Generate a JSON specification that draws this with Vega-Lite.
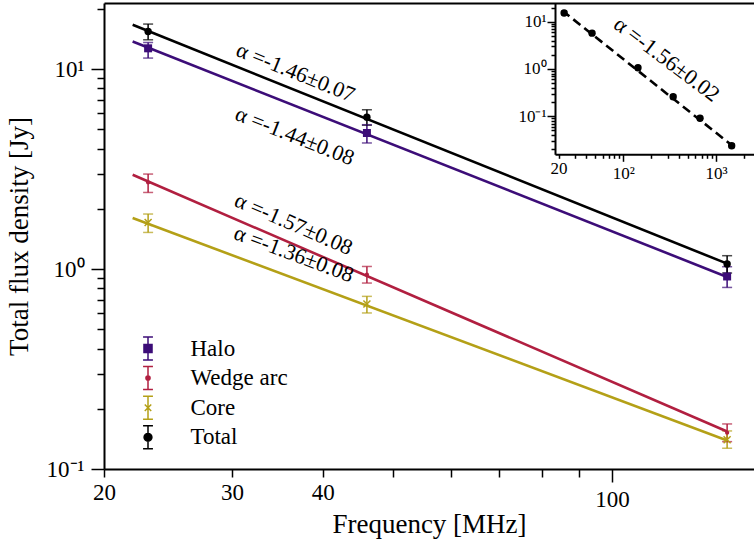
{
  "$schema": "https://vega.github.io/schema/vega-lite/v6.json",
  "autosize": {"type": "none"},
  "padding": {"left": 104, "top": 3, "right": 0, "bottom": 76},
  "width": 650,
  "height": 466,
  "background": "white",
  "datasets": {
    "points": [
      {"series": "Halo", "freq": 23, "flux": 12.7, "lo": 11.35, "hi": 13.58},
      {"series": "Halo", "freq": 46, "flux": 4.79, "lo": 4.27, "hi": 5.27},
      {"series": "Halo", "freq": 144, "flux": 0.918, "lo": 0.809, "hi": 1.027},
      {"series": "Wedge arc", "freq": 23, "flux": 2.71, "lo": 2.415, "hi": 2.985},
      {"series": "Wedge arc", "freq": 46, "flux": 0.937, "lo": 0.851, "hi": 1.03},
      {"series": "Wedge arc", "freq": 144, "flux": 0.152, "lo": 0.137, "hi": 0.168},
      {"series": "Core", "freq": 23, "flux": 1.71, "lo": 1.524, "hi": 1.884},
      {"series": "Core", "freq": 46, "flux": 0.668, "lo": 0.603, "hi": 0.73},
      {"series": "Core", "freq": 144, "flux": 0.14, "lo": 0.127, "hi": 0.155},
      {"series": "Total", "freq": 23, "flux": 15.4, "lo": 14.01, "hi": 16.79},
      {"series": "Total", "freq": 46, "flux": 5.75, "lo": 5.24, "hi": 6.26},
      {"series": "Total", "freq": 144, "flux": 1.06, "lo": 0.955, "hi": 1.166}
    ],
    "fits": [
      {"series": "Total", "freq": 21.9, "flux": 16.65},
      {"series": "Total", "freq": 144, "flux": 1.064},
      {"series": "Halo", "freq": 21.9, "flux": 13.74},
      {"series": "Halo", "freq": 144, "flux": 0.913},
      {"series": "Wedge arc", "freq": 21.9, "flux": 2.96},
      {"series": "Wedge arc", "freq": 144, "flux": 0.1539},
      {"series": "Core", "freq": 21.9, "flux": 1.8},
      {"series": "Core", "freq": 144, "flux": 0.1389}
    ],
    "inset_points": [
      {"freq": 23, "flux": 15.4, "lo": 14.0, "hi": 16.8},
      {"freq": 46, "flux": 5.75, "lo": 5.24, "hi": 6.26},
      {"freq": 144, "flux": 1.06, "lo": 0.955, "hi": 1.166},
      {"freq": 345, "flux": 0.259, "lo": 0.235, "hi": 0.283},
      {"freq": 672, "flux": 0.0903, "lo": 0.082, "hi": 0.099},
      {"freq": 1476, "flux": 0.0237, "lo": 0.0216, "hi": 0.026}
    ],
    "inset_fit": [
      {"freq": 22, "flux": 17.2},
      {"freq": 1600, "flux": 0.02145}
    ]
  },
  "config": {
    "font": "Liberation Serif",
    "view": {"stroke": null},
    "axis": {
      "grid": false,
      "labelFlush": false,
      "labelOverlap": false,
      "labelFont": "Liberation Serif",
      "titleFont": "Liberation Serif",
      "titleFontWeight": "normal",
      "titleLimit": 1000,
      "labelLimit": 1000,
      "labelColor": "#000000",
      "titleColor": "#000000",
      "tickColor": "#000000",
      "domainColor": "#000000",
      "tickWidth": 1.5,
      "domainWidth": 2
    },
    "legend": {"labelFont": "Liberation Serif"},
    "text": {"font": "Liberation Serif", "fontSize": 22, "color": "#000000"}
  },
  "resolve": {"scale": {"x": "independent", "y": "independent"}},
  "layer": [
    {
      "resolve": {"axis": {"x": "independent", "y": "independent"}},
      "layer": [
        {
          "data": {"name": "points"},
          "mark": {"type": "rule", "strokeWidth": 1.5},
          "encoding": {
            "x": {
              "field": "freq", "type": "quantitative",
              "scale": {"type": "log", "domain": [20, 156.8], "nice": false},
              "axis": {
                "orient": "bottom", "values": [100], "format": "d",
                "tickSize": 13, "labelFontSize": 23, "labelPadding": 6,
                "title": "Frequency [MHz]", "titleFontSize": 27, "titlePadding": 0
              }
            },
            "y": {
              "field": "lo", "type": "quantitative",
              "scale": {"type": "log", "domain": [0.1, 21.4], "nice": false},
              "axis": {
                "orient": "left", "values": [0.1, 1, 10],
                "labelExpr": "datum.value < 0.5 ? '10⁻¹' : (datum.value < 5 ? '10⁰' : '10¹')",
                "tickSize": 13, "labelFontSize": 23, "labelPadding": 7,
                "title": "Total flux density [Jy]", "titleFontSize": 27, "titlePadding": 13
              }
            },
            "y2": {"field": "hi"},
            "color": {
              "field": "series", "type": "nominal", "legend": null,
              "scale": {"domain": ["Total", "Halo", "Wedge arc", "Core"], "range": ["#000000", "#3c0d78", "#b11f40", "#b4a017"]}
            }
          }
        },
        {
          "data": {"name": "points"},
          "mark": {"type": "tick", "orient": "horizontal", "size": 10, "thickness": 1.5},
          "encoding": {
            "x": {
              "field": "freq", "type": "quantitative",
              "axis": {"orient": "top", "ticks": false, "labels": false, "domain": true, "title": null}
            },
            "y": {"field": "lo", "type": "quantitative", "axis": null},
            "color": {"field": "series", "type": "nominal", "legend": null}
          }
        },
        {
          "data": {"name": "points"},
          "mark": {"type": "tick", "orient": "horizontal", "size": 10, "thickness": 1.5},
          "encoding": {
            "x": {"field": "freq", "type": "quantitative", "axis": null},
            "y": {"field": "hi", "type": "quantitative", "axis": null},
            "color": {"field": "series", "type": "nominal", "legend": null}
          }
        },
        {
          "data": {"name": "fits"},
          "mark": {"type": "line", "strokeWidth": 2.6},
          "encoding": {
            "x": {
              "field": "freq", "type": "quantitative",
              "axis": {
                "orient": "bottom", "values": [20, 30, 40, 50, 60, 70, 80, 90],
                "labelExpr": "datum.value <= 40 ? format(datum.value, 'd') : ''",
                "tickSize": 8, "labelFontSize": 23, "labelPadding": 4, "domain": false, "title": null
              }
            },
            "y": {
              "field": "flux", "type": "quantitative",
              "axis": {
                "orient": "left",
                "values": [0.2, 0.3, 0.4, 0.5, 0.6, 0.7, 0.8, 0.9, 2, 3, 4, 5, 6, 7, 8, 9, 20],
                "labels": false, "tickSize": 7, "domain": false, "title": null
              }
            },
            "color": {"field": "series", "type": "nominal", "legend": null}
          }
        },
        {
          "data": {"name": "points"},
          "transform": [{"filter": "datum.series == 'Halo'"}],
          "mark": {"type": "point", "shape": "square", "filled": true, "size": 64, "opacity": 1},
          "encoding": {
            "x": {"field": "freq", "type": "quantitative", "axis": null},
            "y": {"field": "flux", "type": "quantitative", "axis": null},
            "color": {"field": "series", "type": "nominal", "legend": null}
          }
        },
        {
          "data": {"name": "points"},
          "transform": [{"filter": "datum.series == 'Wedge arc'"}],
          "mark": {"type": "point", "shape": "circle", "filled": true, "size": 18, "opacity": 1},
          "encoding": {
            "x": {"field": "freq", "type": "quantitative", "axis": null},
            "y": {"field": "flux", "type": "quantitative", "axis": null},
            "color": {"field": "series", "type": "nominal", "legend": null}
          }
        },
        {
          "data": {"name": "points"},
          "transform": [{"filter": "datum.series == 'Core'"}],
          "mark": {"type": "point", "shape": "M-1,-1L1,1M-1,1L1,-1", "filled": false, "size": 49, "strokeWidth": 1.5, "opacity": 1},
          "encoding": {
            "x": {"field": "freq", "type": "quantitative", "axis": null},
            "y": {"field": "flux", "type": "quantitative", "axis": null},
            "color": {"field": "series", "type": "nominal", "legend": null}
          }
        },
        {
          "data": {"name": "points"},
          "transform": [{"filter": "datum.series == 'Total'"}],
          "mark": {"type": "point", "shape": "circle", "filled": true, "size": 55, "opacity": 1},
          "encoding": {
            "x": {"field": "freq", "type": "quantitative", "axis": null},
            "y": {"field": "flux", "type": "quantitative", "axis": null},
            "color": {"field": "series", "type": "nominal", "legend": null}
          }
        },
        {
          "data": {"name": "points"},
          "transform": [{"filter": "false"}],
          "mark": {"type": "point", "filled": true},
          "encoding": {
            "x": {"field": "freq", "type": "quantitative", "axis": null},
            "y": {"field": "flux", "type": "quantitative", "axis": null},
            "shape": {
              "field": "series", "type": "nominal",
              "scale": {
                "domain": ["Halo", "Wedge arc", "Core", "Total"],
                "range": [
                  "M-0.43,-1H0.43M0,-1V1M-0.43,1H0.43M-0.35,-0.35H0.35V0.35H-0.35Z",
                  "M-0.43,-1H0.43M0,-1V1M-0.43,1H0.43M-0.18,0A0.18,0.18,0,1,0,0.18,0A0.18,0.18,0,1,0,-0.18,0Z",
                  "M-0.43,-1H0.43M0,-1V1M-0.43,1H0.43M-0.28,-0.28L0.28,0.28M-0.28,0.28L0.28,-0.28",
                  "M-0.43,-1H0.43M0,-1V1M-0.43,1H0.43M-0.34,0A0.34,0.34,0,1,0,0.34,0A0.34,0.34,0,1,0,-0.34,0Z"
                ]
              },
              "legend": {
                "orient": "none", "legendX": 31.5, "legendY": 333, "title": null,
                "padding": 0, "labelFont": "Liberation Serif", "labelFontSize": 23, "labelColor": "#000000",
                "symbolSize": 529, "symbolStrokeWidth": 1.5, "symbolOpacity": 1,
                "rowPadding": 0.6, "labelOffset": 30
              }
            },
            "fill": {
              "field": "series", "type": "nominal",
              "scale": {"domain": ["Halo", "Wedge arc", "Core", "Total"], "range": ["#3c0d78", "#b11f40", "#b4a017", "#000000"]}
            },
            "stroke": {
              "field": "series", "type": "nominal",
              "scale": {"domain": ["Halo", "Wedge arc", "Core", "Total"], "range": ["#3c0d78", "#b11f40", "#b4a017", "#000000"]}
            }
          }
        },
        {
          "data": {"values": [{"label": "α =-1.46±0.07", "freq": 36.7, "flux": 9.64}]},
          "mark": {"type": "text", "font": "Liberation Serif", "fontSize": 22, "angle": 22, "align": "center", "baseline": "middle"},
          "encoding": {
            "x": {"field": "freq", "type": "quantitative", "axis": null},
            "y": {"field": "flux", "type": "quantitative", "axis": null},
            "text": {"field": "label"}
          }
        },
        {
          "data": {"values": [{"label": "α =-1.44±0.08", "freq": 36.6, "flux": 4.63}]},
          "mark": {"type": "text", "font": "Liberation Serif", "fontSize": 22, "angle": 21.6, "align": "center", "baseline": "middle"},
          "encoding": {
            "x": {"field": "freq", "type": "quantitative", "axis": null},
            "y": {"field": "flux", "type": "quantitative", "axis": null},
            "text": {"field": "label"}
          }
        },
        {
          "data": {"values": [{"label": "α =-1.57±0.08", "freq": 36.47, "flux": 1.68}]},
          "mark": {"type": "text", "font": "Liberation Serif", "fontSize": 22, "angle": 23.4, "align": "center", "baseline": "middle"},
          "encoding": {
            "x": {"field": "freq", "type": "quantitative", "axis": null},
            "y": {"field": "flux", "type": "quantitative", "axis": null},
            "text": {"field": "label"}
          }
        },
        {
          "data": {"values": [{"label": "α =-1.36±0.08", "freq": 36.5, "flux": 1.19}]},
          "mark": {"type": "text", "font": "Liberation Serif", "fontSize": 22, "angle": 20.5, "align": "center", "baseline": "middle"},
          "encoding": {
            "x": {"field": "freq", "type": "quantitative", "axis": null},
            "y": {"field": "flux", "type": "quantitative", "axis": null},
            "text": {"field": "label"}
          }
        }
      ]
    },
    {
      "resolve": {"axis": {"x": "independent", "y": "independent"}},
      "layer": [
        {
          "data": {"name": "inset_points"},
          "mark": {"type": "rule", "strokeWidth": 1.5, "color": "#000000"},
          "encoding": {
            "x": {
              "field": "freq", "type": "quantitative",
              "scale": {"type": "log", "domain": [18.33, 2570], "range": [451, 650], "nice": false},
              "axis": {
                "orient": "bottom", "offset": -314.7, "values": [100, 1000],
                "labelExpr": "datum.value < 500 ? '10²' : '10³'",
                "tickSize": 7, "labelFontSize": 17, "labelPadding": 4, "title": null
              }
            },
            "y": {
              "field": "lo", "type": "quantitative",
              "scale": {"type": "log", "domain": [0.0156, 25.0], "range": [151.3, 0], "nice": false},
              "axis": {
                "orient": "left", "offset": -451, "values": [0.1, 1, 10],
                "labelExpr": "datum.value < 0.5 ? '10⁻¹' : (datum.value < 5 ? '10⁰' : '10¹')",
                "tickSize": 8, "labelFontSize": 17, "labelPadding": 1, "title": null
              }
            },
            "y2": {"field": "hi"}
          }
        },
        {
          "data": {"name": "inset_points"},
          "mark": {"type": "tick", "orient": "horizontal", "size": 6, "thickness": 1.5, "color": "#000000"},
          "encoding": {
            "x": {"field": "freq", "type": "quantitative", "axis": null},
            "y": {"field": "lo", "type": "quantitative", "axis": null}
          }
        },
        {
          "data": {"name": "inset_points"},
          "mark": {"type": "tick", "orient": "horizontal", "size": 6, "thickness": 1.5, "color": "#000000"},
          "encoding": {
            "x": {"field": "freq", "type": "quantitative", "axis": null},
            "y": {"field": "hi", "type": "quantitative", "axis": null}
          }
        },
        {
          "data": {"name": "inset_fit"},
          "mark": {"type": "line", "strokeWidth": 2.6, "strokeDash": [9, 5], "color": "#000000"},
          "encoding": {
            "x": {
              "field": "freq", "type": "quantitative",
              "axis": {
                "orient": "bottom", "offset": -314.7,
                "values": [20, 30, 40, 50, 60, 70, 80, 90, 200, 300, 400, 500, 600, 700, 800, 900, 2000],
                "labelExpr": "datum.value == 20 ? '20' : ''",
                "tickSize": 4, "labelFontSize": 17, "labelPadding": 2, "domain": false, "title": null
              }
            },
            "y": {
              "field": "flux", "type": "quantitative",
              "axis": {
                "orient": "left", "offset": -451,
                "values": [0.02, 0.03, 0.04, 0.05, 0.06, 0.07, 0.08, 0.09, 0.2, 0.3, 0.4, 0.5, 0.6, 0.7, 0.8, 0.9, 2, 3, 4, 5, 6, 7, 8, 9, 20],
                "labels": false, "tickSize": 4, "domain": false, "title": null
              }
            }
          }
        },
        {
          "data": {"name": "inset_points"},
          "mark": {"type": "point", "shape": "circle", "filled": true, "size": 55, "color": "#000000", "opacity": 1},
          "encoding": {
            "x": {"field": "freq", "type": "quantitative", "axis": null},
            "y": {"field": "flux", "type": "quantitative", "axis": null}
          }
        },
        {
          "data": {"values": [{"label": "α =-1.56±0.02", "freq": 294, "flux": 1.61}]},
          "mark": {"type": "text", "font": "Liberation Serif", "fontSize": 22, "angle": 37, "align": "center", "baseline": "middle"},
          "encoding": {
            "x": {"field": "freq", "type": "quantitative", "axis": null},
            "y": {"field": "flux", "type": "quantitative", "axis": null},
            "text": {"field": "label"}
          }
        }
      ]
    }
  ]
}
